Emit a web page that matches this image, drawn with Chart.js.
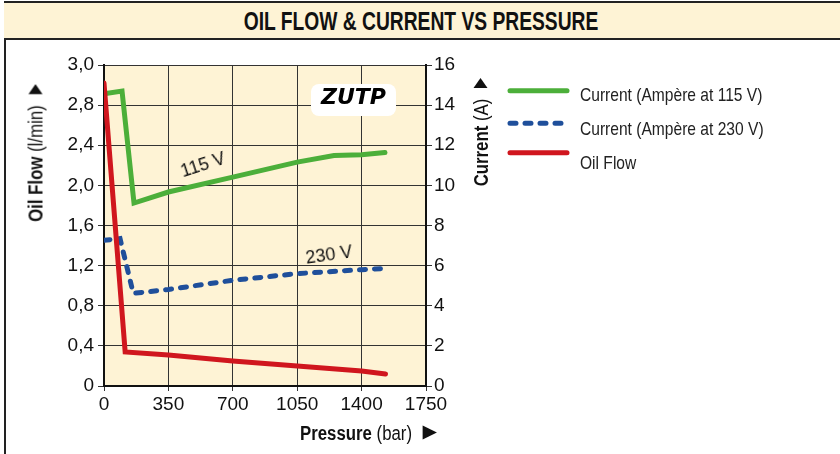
<!DOCTYPE html>
<html>
<head>
<meta charset="utf-8">
<script src="https://cdn.jsdelivr.net/npm/chart.js@4"></script>
<style>
  body { margin: 0; background: #fff; }
  #wrap { position: relative; width: 840px; height: 454px; overflow: hidden; background: #fff; }
  #frameLeft { position: absolute; left: 4px; top: 1px; width: 2px; height: 460px; background: #222; }
  #titleBar {
    position: absolute; left: 4px; top: 1px; width: 840px; height: 35px;
    background: #fef3d5; border-top: 2px solid #222; border-bottom: 2px solid #222;
  }
  #titleText {
    position: absolute; left: 421px; top: 21px; white-space: nowrap; color: #111;
    font: bold 26px "Liberation Sans", Arial, Helvetica, sans-serif;
    transform: translate(-50%, -50%) scaleX(0.74);
  }
  canvas { position: absolute; left: 0; top: 0; }
  .axisTitle {
    position: absolute; white-space: nowrap; color: #111;
    font: 20px "Liberation Sans", Arial, Helvetica, sans-serif;
  }
  .tri {
    display: inline-block; width: 0; height: 0; margin-left: 13px; vertical-align: 0px;
    border-left: 12px solid #111; border-top: 7px solid transparent; border-bottom: 7px solid transparent;
  }
  .legendText {
    position: absolute; left: 580px; white-space: nowrap; color: #222;
    font: 19px "Liberation Sans", Arial, Helvetica, sans-serif;
    transform-origin: 0 50%;
    transform: translateY(-50%) scaleX(0.82);
  }
  .note {
    position: absolute; white-space: nowrap; color: #111;
    font: 18px "Liberation Sans", Arial, Helvetica, sans-serif;
  }
  #zutp {
    position: absolute; left: 311px; top: 84px; width: 85px; height: 32px;
    background: #fff; border-radius: 8px; text-align: center; line-height: 32px;
    font: italic bold 22px "DejaVu Sans", sans-serif; color: #000;
  }
</style>
</head>
<body>
<div id="wrap">
  <div id="frameLeft"></div>
  <div id="titleBar"></div>
  <div id="titleText">OIL FLOW &amp; CURRENT VS PRESSURE</div>
  <canvas id="chart" width="840" height="454"></canvas>

  <div id="zutp">ZUTP</div>
  <div class="note" style="left:203px; top:165px; transform: translate(-50%,-50%) rotate(-18deg);">115 V</div>
  <div class="note" style="left:329px; top:255px; transform: translate(-50%,-50%) rotate(-8deg);">230 V</div>

  <div class="axisTitle" style="left:36px; top:153px; transform: translate(-50%,-50%) rotate(-90deg) scaleX(0.84);"><b>Oil Flow</b> (l/min)<span class="tri"></span></div>
  <div class="axisTitle" style="left:481px; top:132px; transform: translate(-50%,-50%) rotate(-90deg) scaleX(0.84);"><b>Current</b> (A)<span class="tri"></span></div>
  <div class="axisTitle" style="left:300px; top:433px; transform-origin: 0 50%; transform: translateY(-50%) scaleX(0.84);"><b>Pressure</b> (bar)<span class="tri" style="border-left-width:17px;border-top-width:7px;border-bottom-width:7px;"></span></div>

  <svg style="position:absolute;left:500px;top:80px;" width="80" height="90">
    <line x1="10" y1="10.7" x2="67" y2="10.7" stroke="#4caf3a" stroke-width="5" stroke-linecap="round"/>
    <line x1="10" y1="43.3" x2="67" y2="43.3" stroke="#1f4f9b" stroke-width="5" stroke-linecap="round" stroke-dasharray="6 9"/>
    <line x1="10" y1="72.7" x2="67" y2="72.7" stroke="#d0161e" stroke-width="5" stroke-linecap="round"/>
  </svg>
  <div class="legendText" style="top:95px;">Current (Ampère at 115 V)</div>
  <div class="legendText" style="top:129px;">Current (Ampère at 230 V)</div>
  <div class="legendText" style="top:163px;">Oil Flow</div>
</div>

<script>
// values
const pressure115 = [0, 98, 163, 350, 700, 1050, 1250, 1400, 1527];
const current115 = [14.56, 14.7, 9.12, 9.67, 10.41, 11.16, 11.49, 11.53, 11.64];

const pressure230 = [0, 87, 159, 350, 700, 1050, 1400, 1527];
const current230 = [7.26, 7.35, 4.62, 4.81, 5.27, 5.6, 5.8, 5.86];

const pressureOil = [0, 115, 350, 700, 1050, 1400, 1530];
const oilFlow = [3.02, 0.34, 0.31, 0.25, 0.20, 0.15, 0.12];

const pressureTicks = [0, 350, 700, 1050, 1400, 1750];
const flowTickLabels = ['0', '0,4', '0,8', '1,2', '1,6', '2,0', '2,4', '2,8', '3,0'];
const currentTicks = [0, 2, 4, 6, 8, 10, 12, 14, 16];

function toPoints(xs, ys) {
    return xs.map((x, i) => ({ x: x, y: ys[i] }));
}

const plotBg = {
    id: 'plotBg',
    beforeDraw(chart) {
        const a = chart.chartArea;
        const ctx = chart.ctx;
        ctx.save();
        ctx.fillStyle = '#fef3d5';
        ctx.fillRect(a.left, a.top, a.right - a.left, a.bottom - a.top);
        ctx.restore();
    }
};

const tickFont = { family: '"Liberation Sans", Arial, Helvetica, sans-serif', size: 19 };
const gridCol = '#333';

new Chart(document.getElementById('chart').getContext('2d'), {
    type: 'line',
    data: {
        datasets: [
            {
                label: 'Oil Flow',
                data: toPoints(pressureOil, oilFlow),
                yAxisID: 'y',
                borderColor: '#d0161e',
                borderWidth: 5,
                borderCapStyle: 'round'
            },
            {
                label: 'Current (Ampère at 230 V)',
                data: toPoints(pressure230, current230),
                yAxisID: 'y1',
                borderColor: '#1f4f9b',
                borderWidth: 5,
                borderDash: [6, 9],
                borderCapStyle: 'round'
            },
            {
                label: 'Current (Ampère at 115 V)',
                data: toPoints(pressure115, current115),
                yAxisID: 'y1',
                borderColor: '#4caf3a',
                borderWidth: 5,
                borderCapStyle: 'round'
            }
        ]
    },
    options: {
        responsive: false,
        animation: false,
        layout: { padding: { top: 65, right: 364, bottom: 0, left: 0 } },
        elements: { point: { radius: 0 }, line: { tension: 0, fill: false } },
        plugins: { legend: { display: false }, tooltip: { enabled: false } },
        scales: {
            x: {
                type: 'linear',
                min: pressureTicks[0],
                max: pressureTicks[pressureTicks.length - 1],
                afterBuildTicks: s => { s.ticks = pressureTicks.map(v => ({ value: v })); },
                afterFit: s => { s.height = 68; },
                ticks: {
                    font: tickFont, color: '#111', padding: 2, maxRotation: 0,
                    callback: (v) => String(v)
                },
                grid: { color: gridCol, lineWidth: 1, tickLength: 5 },
                border: { color: '#111', width: 2 }
            },
            y: {
                position: 'left',
                min: 0,
                max: 3.2,
                afterBuildTicks: s => { s.ticks = flowTickLabels.map((t, i) => ({ value: i * 0.4 })); },
                afterFit: s => { s.width = 104; },
                ticks: {
                    font: tickFont, color: '#111', padding: 4,
                    callback: (v, i) => flowTickLabels[i]
                },
                grid: { color: gridCol, lineWidth: 1, tickLength: 6 },
                border: { color: '#111', width: 2 }
            },
            y1: {
                position: 'right',
                min: currentTicks[0],
                max: currentTicks[currentTicks.length - 1],
                afterBuildTicks: s => { s.ticks = currentTicks.map(v => ({ value: v })); },
                afterFit: s => { s.width = 50; },
                ticks: { font: tickFont, color: '#111', padding: 2 },
                grid: { color: gridCol, lineWidth: 1, tickLength: 6, drawOnChartArea: false },
                border: { color: '#111', width: 2 }
            }
        }
    },
    plugins: [plotBg]
});
</script>
</body>
</html>
